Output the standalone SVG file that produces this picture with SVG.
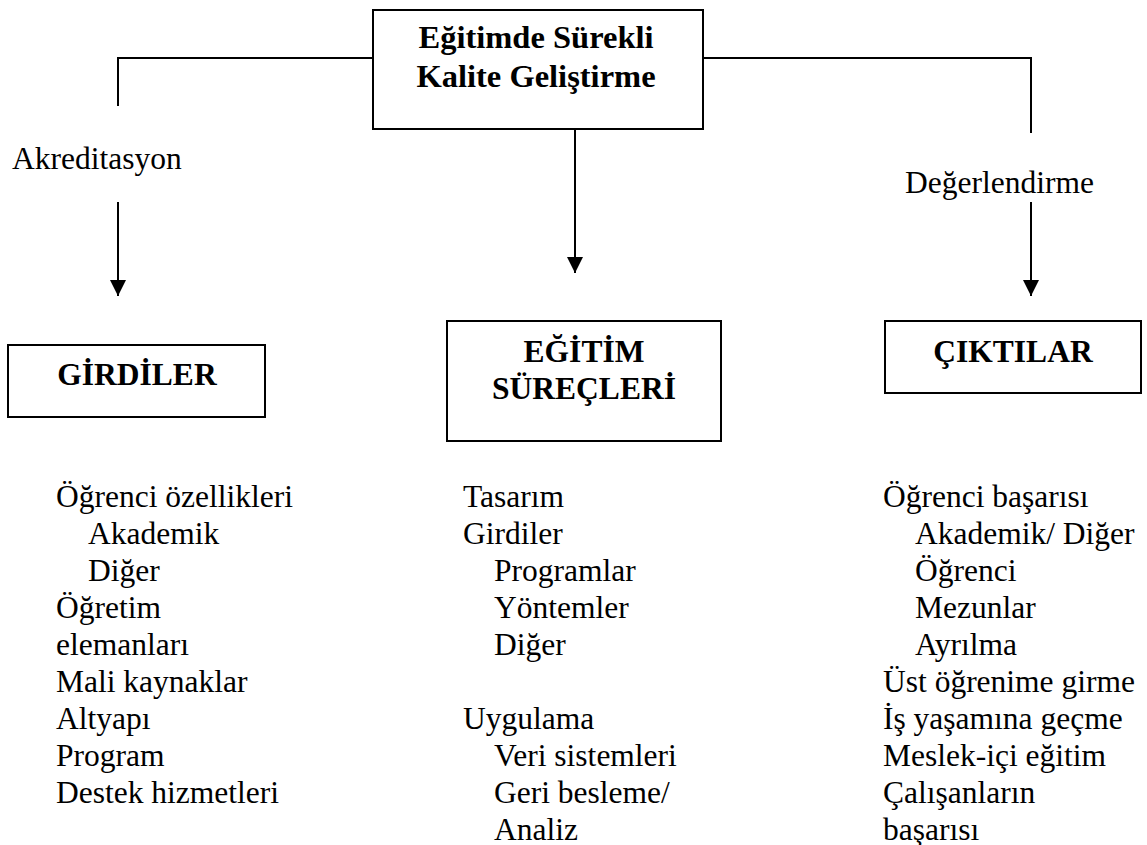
<svg xmlns="http://www.w3.org/2000/svg" width="1147" height="845" viewBox="0 0 1147 845">
<style>
.box{fill:#fff;stroke:#000;stroke-width:2}
.ln{fill:none;stroke:#000;stroke-width:2}
text{font-family:"Liberation Serif","Times New Roman",serif;font-size:31.5px;fill:#000}
.b{font-weight:bold;text-anchor:middle}
.t{font-size:32.5px}
</style>
<defs>
<marker id="ah" markerUnits="userSpaceOnUse" markerWidth="16" markerHeight="16" refX="16" refY="8" orient="auto">
<path d="M0,0 L16,8 L0,16 z" fill="#000"/>
</marker>
</defs>
<rect width="1147" height="845" fill="#fff"/>
<g id="connectors">
<polyline class="ln" points="373,58 118,58 118,106"/>
<polyline class="ln" points="703,58 1031,58 1031,133"/>
<line class="ln" x1="118" y1="202" x2="118" y2="296" marker-end="url(#ah)"/>
<line class="ln" x1="575" y1="129" x2="575" y2="273" marker-end="url(#ah)"/>
<line class="ln" x1="1031" y1="202" x2="1031" y2="296" marker-end="url(#ah)"/>
<text x="12" y="169">Akreditasyon</text>
<text x="905" y="193">Değerlendirme</text>
</g>
<g id="root">
<rect class="box" x="373" y="10" width="330" height="119"/>
<text class="b t" x="536" y="48">Eğitimde Sürekli</text>
<text class="b t" x="536" y="87">Kalite Geliştirme</text>
</g>
<g id="girdiler">
<rect class="box" x="8" y="345" width="257" height="72"/>
<text class="b" x="137" y="385">GİRDİLER</text>
</g>
<g id="egitim">
<rect class="box" x="447" y="321" width="274" height="120"/>
<text class="b" x="584" y="362">EĞİTİM</text>
<text class="b" x="584" y="399">SÜREÇLERİ</text>
</g>
<g id="ciktilar">
<rect class="box" x="885" y="321" width="256" height="72"/>
<text class="b" x="1013" y="362">ÇIKTILAR</text>
</g>
<g id="list-girdiler">
<text x="56" y="507">Öğrenci özellikleri</text>
<text x="88" y="544">Akademik</text>
<text x="88" y="581">Diğer</text>
<text x="56" y="618">Öğretim</text>
<text x="56" y="655">elemanları</text>
<text x="56" y="692">Mali kaynaklar</text>
<text x="56" y="729">Altyapı</text>
<text x="56" y="766">Program</text>
<text x="56" y="803">Destek hizmetleri</text>
</g>
<g id="list-egitim">
<text x="463" y="507">Tasarım</text>
<text x="463" y="544">Girdiler</text>
<text x="494" y="581">Programlar</text>
<text x="494" y="618">Yöntemler</text>
<text x="494" y="655">Diğer</text>
<text x="463" y="729">Uygulama</text>
<text x="494" y="766">Veri sistemleri</text>
<text x="494" y="803">Geri besleme/</text>
<text x="494" y="840">Analiz</text>
</g>
<g id="list-ciktilar">
<text x="883" y="507">Öğrenci başarısı</text>
<text x="915" y="544">Akademik/ Diğer</text>
<text x="915" y="581">Öğrenci</text>
<text x="915" y="618">Mezunlar</text>
<text x="915" y="655">Ayrılma</text>
<text x="883" y="692">Üst öğrenime girme</text>
<text x="883" y="729">İş yaşamına geçme</text>
<text x="883" y="766">Meslek-içi eğitim</text>
<text x="883" y="803">Çalışanların</text>
<text x="883" y="840">başarısı</text>
</g>
</svg>
